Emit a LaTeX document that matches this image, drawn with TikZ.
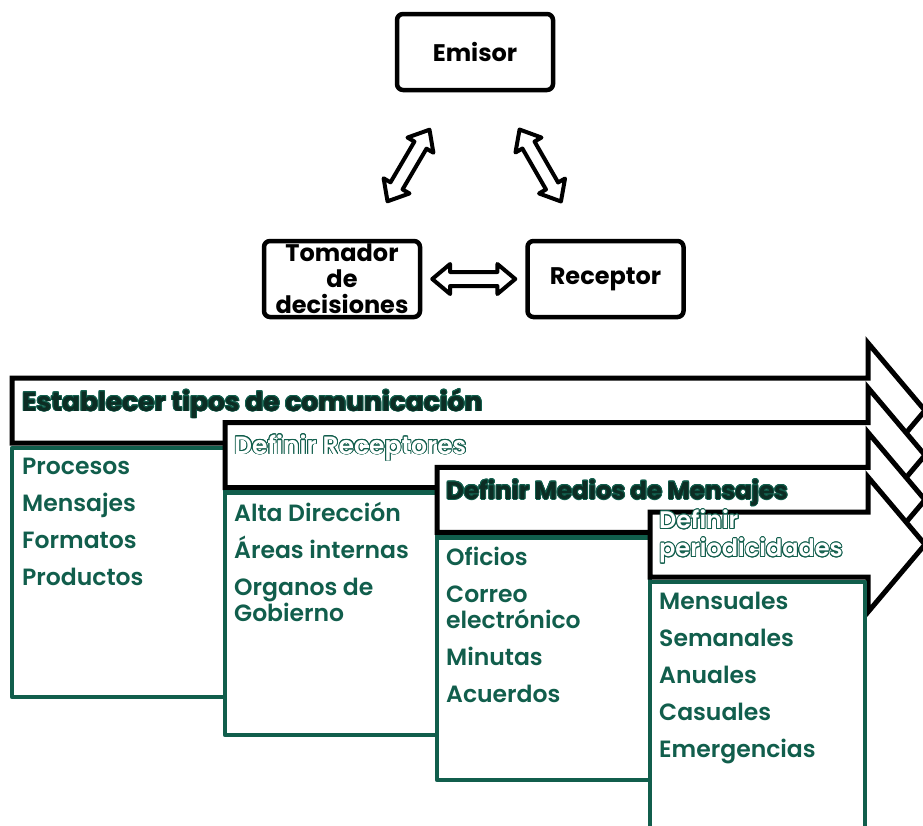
\documentclass[tikz,border=0pt]{standalone}
\usepackage{fontspec}
\setmainfont{Poppins}
\newfontfamily\semibold{Poppins}[UprightFont={* SemiBold}]
\usepackage{contour}
\usetikzlibrary{shapes.arrows,positioning}
\definecolor{verde}{RGB}{17,94,76}
\definecolor{verdeosc}{RGB}{12,45,36}
\contourlength{0.9pt}
\newcommand{\solido}[1]{\contour{verde}{\textcolor{verdeosc}{#1}}}
\newcommand{\hueco}[1]{\contour{verde}{\textcolor{white}{#1}}}

\begin{document}
\begin{tikzpicture}[x=1pt,y=-1pt,
    topbox/.style={draw, line width=4.5pt, rounded corners=6pt, minimum width=156pt,
      minimum height=76pt, inner sep=0pt, align=center,
      font=\bfseries\fontsize{24}{26}\selectfont},
    dblarrow/.style={double arrow, draw, fill=white, line width=4pt, line join=round,
      inner xsep=0pt, inner ysep=5pt, minimum height=83pt,
      double arrow head extend=8pt, double arrow tip angle=80, sloped},
    stagebox/.style={draw, fill=white, line width=5pt},
    listbox/.style={draw=verde, fill=white, line width=4.5pt, line join=round},
    stagetext/.style={anchor=west, inner sep=0pt, align=left,
      font=\bfseries\fontsize{26.5}{28}\selectfont},
    listtext/.style={anchor=north west, inner sep=0pt, align=left, text=verde,
      font=\semibold\fontsize{23.5}{26}\selectfont}]

  \useasboundingbox (0,0) rectangle (923,825);

  % emisor, tomador y receptor
  \node[topbox] (emisor) at (475,52) {Emisor};
  \node[topbox] (tomador) at (342,279) {Tomador\\de\\decisiones};
  \node[topbox] (receptor) [right=103pt of tomador] {Receptor};

  \path (emisor) -- node[dblarrow] {} (tomador);
  \path (emisor) -- node[dblarrow] {} (receptor);
  \path (tomador) -- node[dblarrow] {} (receptor);

  % etapas
  \foreach \xl/\xr/\yt/\yb in {12/225/378/697, 225/437/422.7/735,
                                437/650/467.4/780, 650/865/512/850}{
    \draw[stagebox] (\xl,\yt) -- (868,\yt) -- (868,\yt-35) -- (925,\yt+32.5)
      -- (868,\yt+100) -- (868,\yt+65) -- (\xl,\yt+65) -- cycle;
    \draw[listbox] (\xl,\yt+70) rectangle (\xr,\yb);
  }

  \node[stagetext] (tipos) at (22,404) {\solido{Establecer tipos de comunicación}};
  \node[stagetext, font=\semibold\fontsize{25}{28}\selectfont] (receptores) at (234,448)
    {\hueco{Definir Receptores}};
  \node[stagetext, font=\bfseries\fontsize{24.5}{28}\selectfont] (medios) at (446,493)
    {\solido{Definir Medios de Mensajes}};
  \node[stagetext, font=\semibold\fontsize{24}{28}\selectfont] (periodos) at (659,537)
    {\hueco{Definir}\\\hueco{periodicidades}};

  \node[listtext] (procesos) at (22,458)
    {Procesos\\[11pt]Mensajes\\[11pt]Formatos\\[11pt]Productos};
  \node[listtext] (direccion) at (234,502)
    {Alta Dirección\\[11pt]Áreas internas\\[11pt]Organos de\\Gobierno};
  \node[listtext] (oficios) at (446,547)
    {Oficios\\[11pt]Correo\\electrónico\\[11pt]Minutas\\[11pt]Acuerdos};
  \node[listtext] (mensuales) at (659,592)
    {Mensuales\\[11pt]Semanales\\[11pt]Anuales\\[11pt]Casuales\\[11pt]Emergencias};
\end{tikzpicture}
\end{document}
